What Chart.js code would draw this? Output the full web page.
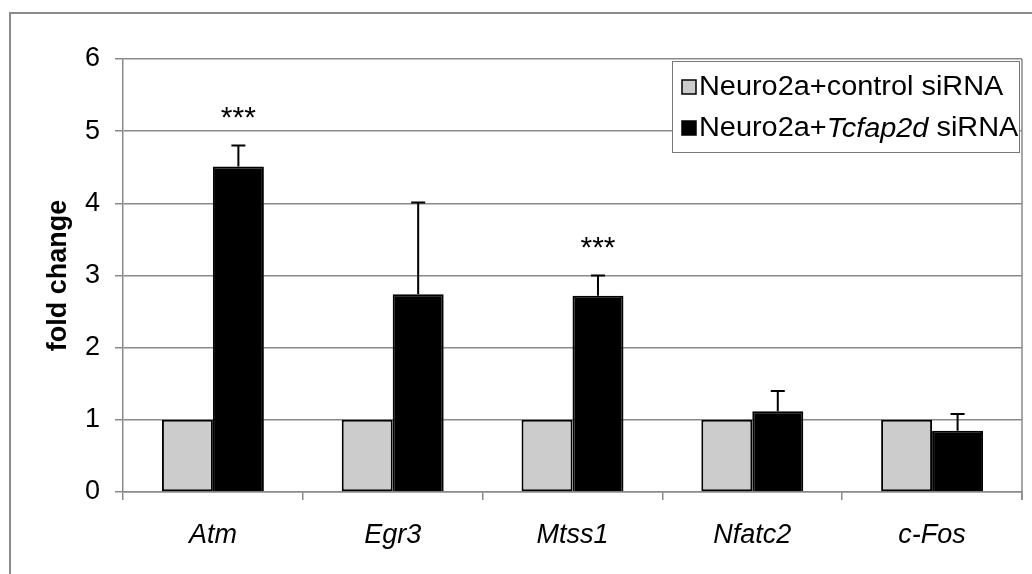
<!DOCTYPE html>
<html lang="en">
  <head>
    <meta charset="UTF-8" />
    <title>fold change</title>
    <style>
      body { margin: 0; background: #fff; }
      canvas { display: block; }
    </style>
  </head>
  <body>
    <canvas id="foldChart" width="1032" height="574"></canvas>

    <script src="https://cdn.jsdelivr.net/npm/chart.js"></script>
    <script>
      // data
      const genes = ["Atm", "Egr3", "Mtss1", "Nfatc2", "c-Fos"];
      const controlValues = [1, 1, 1, 1, 1];
      const knockdownValues = [4.51, 2.74, 2.72, 1.12, 0.85];
      const knockdownErrors = [0.29, 1.27, 0.28, 0.28, 0.23];
      const stars = ["***", "", "***", "", ""];
      const yTicks = [0, 1, 2, 3, 4, 5, 6];

      const FONT = "'Liberation Sans', Arial, sans-serif";
      const GRID = "#8a8a8a";
      Chart.defaults.font.family = FONT;
      Chart.defaults.color = "#000";

      //! frame, plot border, error bars, stars and legend
      const decorations = {
        id: "decorations",
        beforeDraw(chart) {
          const ctx = chart.ctx;
          ctx.save();
          ctx.fillStyle = "#fff";
          ctx.fillRect(0, 0, chart.width, chart.height);
          ctx.strokeStyle = GRID;
          ctx.lineWidth = 2;
          ctx.strokeRect(10, 13, chart.width + 20, chart.height + 20);
          ctx.restore();
        },
        afterDatasetsDraw(chart) {
          const ctx = chart.ctx;
          const y = chart.scales.y;
          const meta = chart.getDatasetMeta(1);
          ctx.save();
          ctx.strokeStyle = "#000";
          ctx.lineWidth = 2;
          meta.data.forEach((bar, i) => {
            const top = y.getPixelForValue(knockdownValues[i] + knockdownErrors[i]);
            ctx.beginPath();
            ctx.moveTo(bar.x, bar.y);
            ctx.lineTo(bar.x, top);
            ctx.moveTo(bar.x - 7, top);
            ctx.lineTo(bar.x + 7, top);
            ctx.stroke();
            if (stars[i]) {
              ctx.fillStyle = "#000";
              ctx.font = "30px " + FONT;
              ctx.textAlign = "center";
              ctx.textBaseline = "alphabetic";
              ctx.fillText(stars[i], bar.x, top - 19);
            }
          });
          ctx.restore();
        },
        afterDraw(chart) {
          const ctx = chart.ctx;
          const a = chart.chartArea;
          ctx.save();
          // right border of plot area
          ctx.strokeStyle = GRID;
          ctx.lineWidth = 1.5;
          ctx.beginPath();
          ctx.moveTo(a.right, a.top);
          ctx.lineTo(a.right, a.bottom + 8);
          ctx.stroke();

          // legend box
          const bx = a.right - 350, by = a.top + 2, bw = 347, bh = 91;
          ctx.fillStyle = "#fff";
          ctx.fillRect(bx, by, bw, bh);
          ctx.strokeStyle = "#777";
          ctx.lineWidth = 1;
          ctx.strokeRect(bx + 0.5, by + 0.5, bw, bh);

          const rows = [
            { color: "#cccccc", parts: [["Neuro2a+control siRNA", false]] },
            { color: "#000000", parts: [["Neuro2a+", false], ["Tcfap2d", true], [" siRNA", false]] },
          ];
          rows.forEach((row, r) => {
            const cy = by + 26 + r * 41;
            ctx.fillStyle = row.color;
            ctx.fillRect(bx + 10, cy - 7, 14, 14);
            ctx.strokeStyle = "#000";
            ctx.lineWidth = 1.5;
            ctx.strokeRect(bx + 10, cy - 7, 14, 14);

            ctx.save();
            ctx.translate(bx + 27, cy);
            ctx.scale(1.07, 1);
            ctx.fillStyle = "#000";
            ctx.textBaseline = "middle";
            ctx.textAlign = "left";
            let x = 0;
            row.parts.forEach(([txt, italic]) => {
              ctx.font = (italic ? "italic " : "") + "27px " + FONT;
              ctx.fillText(txt, x, 1);
              x += ctx.measureText(txt).width;
            });
            ctx.restore();
          });
          ctx.restore();
        },
      };

      const ctx = document.getElementById("foldChart").getContext("2d");
      const foldChart = new Chart(ctx, {
        type: "bar",
        data: {
          labels: genes,
          datasets: [
            {
              label: "Neuro2a+control siRNA",
              data: controlValues,
              backgroundColor: "#cccccc",
              borderColor: "#000",
              borderWidth: 2,
              borderSkipped: false,
              categoryPercentage: 0.567,
              barPercentage: 1.0,
            },
            {
              label: "Neuro2a+Tcfap2d siRNA",
              data: knockdownValues,
              backgroundColor: "#000",
              borderColor: "#000",
              borderWidth: 2,
              categoryPercentage: 0.567,
              barPercentage: 1.0,
            },
          ],
        },
        options: {
          responsive: false,
          animation: false,
          devicePixelRatio: 1,
          layout: { padding: { left: 0, top: 59, right: 10, bottom: 0 } },
          plugins: {
            legend: { display: false },
            tooltip: { enabled: false },
          },
          scales: {
            x: {
              afterFit: (s) => { s.height = 82; },
              grid: {
                drawOnChartArea: false,
                drawTicks: true,
                tickLength: 8,
                color: GRID,
                lineWidth: 1.5,
              },
              border: { display: true, color: GRID, width: 1.5 },
              ticks: {
                padding: 19,
                font: { size: 27, style: "italic" },
                color: "#000",
              },
            },
            y: {
              min: 0,
              max: 6,
              afterFit: (s) => { s.width = 123; },
              afterBuildTicks: (s) => { s.ticks = yTicks.map((v) => ({ value: v })); },
              grid: { color: GRID, lineWidth: 1.5, tickLength: 8 },
              border: { display: true, color: GRID, width: 1.5 },
              ticks: {
                padding: 15,
                font: { size: 27 },
                color: "#000",
              },
              title: {
                display: true,
                text: "fold change",
                font: { size: 27, weight: "bold" },
                color: "#000",
                padding: { top: 42, bottom: 0 },
              },
            },
          },
        },
        plugins: [decorations],
      });
    </script>
  </body>
</html>
